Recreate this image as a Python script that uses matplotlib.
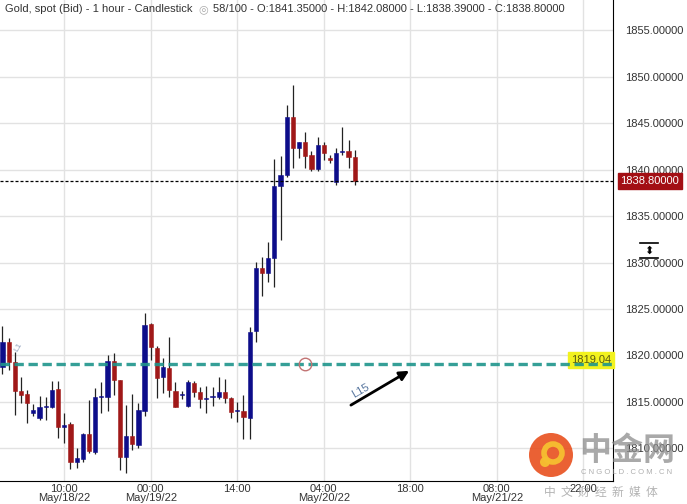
import matplotlib
matplotlib.use("Agg")
import matplotlib.pyplot as plt
import matplotlib.patches as patches
import numpy as np

plt.rcParams['font.family'] = ['Liberation Sans', 'DejaVu Sans']

# hourly candles, hour offset from 00:00 May/19/22
start_hour = -24
opens = [1818.8, 1821.4, 1819.3, 1816.2, 1815.85, 1813.85, 1813.25, 1814.45, 1814.5, 1816.35,
         1812.3, 1812.6, 1808.55, 1808.9, 1811.55, 1809.65, 1815.5, 1815.55, 1819.35, 1817.35,
         1809.05, 1811.35, 1810.35, 1814.05, 1823.4, 1820.8, 1817.65, 1818.6, 1816.2, 1815.7,
         1814.55, 1817.05, 1816.1, 1815.3, 1815.5, 1815.55, 1816.05, 1815.45, 1814.0, 1814.05,
         1813.25, 1822.6, 1829.4, 1828.85, 1830.45, 1838.25, 1839.45, 1845.7, 1842.35, 1843.0,
         1841.6, 1840.05, 1842.65, 1841.2, 1838.7, 1841.9, 1842.05, 1841.35]
highs = [1823.2, 1821.85, 1820.4, 1817.65, 1816.3, 1814.8, 1815.6, 1815.55, 1817.3, 1817.3,
         1813.75, 1812.85, 1810.0, 1811.6, 1815.2, 1816.45, 1817.15, 1820.05, 1820.3, 1817.4,
         1814.65, 1815.85, 1814.85, 1824.6, 1823.45, 1821.0, 1819.7, 1821.95, 1817.15, 1816.2,
         1817.35, 1817.3, 1816.55, 1816.7, 1816.55, 1817.65, 1817.45, 1815.5, 1815.0, 1815.75,
         1823.1, 1830.1, 1830.65, 1832.25, 1841.2, 1841.5, 1846.95, 1849.1, 1843.0, 1844.1,
         1842.05, 1843.55, 1843.0, 1841.6, 1842.3, 1844.65, 1843.2, 1842.08]
lows = [1818.0, 1818.4, 1813.6, 1814.9, 1812.75, 1813.5, 1813.05, 1813.1, 1814.3, 1811.1,
        1810.55, 1807.75, 1807.85, 1808.55, 1809.45, 1809.4, 1813.75, 1814.05, 1815.75, 1807.65,
        1807.3, 1809.8, 1810.05, 1813.5, 1819.5, 1815.4, 1816.0, 1815.55, 1814.4, 1815.3,
        1814.4, 1815.5, 1814.3, 1813.85, 1814.55, 1815.3, 1814.9, 1813.25, 1812.85, 1810.95,
        1810.95, 1821.45, 1826.35, 1827.95, 1827.4, 1832.45, 1839.25, 1840.15, 1841.25, 1840.15,
        1839.9, 1839.9, 1841.0, 1840.75, 1838.35, 1841.6, 1840.15, 1838.39]
closes = [1821.4, 1819.3, 1816.2, 1815.7, 1814.9, 1814.1, 1814.4, 1814.6, 1816.3, 1812.25,
          1812.55, 1808.55, 1809.0, 1811.55, 1809.75, 1815.55, 1815.6, 1819.4, 1817.35, 1809.05,
          1811.35, 1810.45, 1814.15, 1823.3, 1820.95, 1817.55, 1818.8, 1816.3, 1814.5, 1815.8,
          1817.15, 1816.1, 1815.3, 1815.4, 1815.6, 1816.05, 1815.4, 1813.95, 1814.1, 1813.35,
          1822.55, 1829.4, 1828.85, 1830.45, 1838.25, 1839.45, 1845.7, 1842.35, 1843.0, 1841.5,
          1840.05, 1842.65, 1841.75, 1841.1, 1841.85, 1842.05, 1841.35, 1838.8]

tick_hours = [-14, 0, 14, 28, 42, 56, 70]
tick_labels = ["10:00\nMay/18/22", "00:00\nMay/19/22", "14:00", "04:00\nMay/20/22",
               "18:00", "08:00\nMay/21/22", "22:00"]
price_ticks = [1810, 1815, 1820, 1825, 1830, 1835, 1840, 1845, 1850, 1855]
support_level = 1819.04
last_price = 1838.80

up_col = '#0d0d8a'
down_col = '#a01818'

fig = plt.figure(figsize=(6.87, 5.04), dpi=100)
ax = fig.add_axes([0, 23 / 504, 613 / 687, 481 / 504])

hours = np.arange(len(opens)) + start_hour
for h, o, hi, lo, c in zip(hours, opens, highs, lows, closes):
    col = up_col if c >= o else down_col
    ax.vlines(h, lo, hi, color='#222222', lw=0.9, zorder=3)
    bottom = min(o, c)
    height = max(abs(c - o), 0.12)
    ax.add_patch(patches.Rectangle((h - 0.34, bottom), 0.68, height,
                                   facecolor=col, edgecolor=col, lw=0.4, zorder=4))

# last price dotted line + label
ax.axhline(last_price, color='black', lw=0.9, ls=(0, (2.4, 1.6)), zorder=5)
ax.text(1.012, last_price, "1838.80000", transform=ax.get_yaxis_transform(),
        ha='left', va='center', color='white', fontsize=8, zorder=10, clip_on=False,
        bbox=dict(boxstyle='square,pad=0.25', facecolor='#a30f14', edgecolor='#a30f14'))

# support line
ax.axhline(support_level, color='#1f958c', lw=2.4, ls=(0, (2.8, 1.4)), alpha=0.9, zorder=6)
ax.text(0.997, support_level + 0.45, "1819.04", transform=ax.get_yaxis_transform(),
        ha='right', va='center', color='#5a5a10', fontsize=8, zorder=5,
        bbox=dict(boxstyle='square,pad=0.25', facecolor='#f2f21e', edgecolor='#f2f21e'))
ax.plot([25], [support_level], marker='o', ms=9, mfc='none', mec='#c27474', mew=1, zorder=7)
ax.text(-22.3, 1820.5, "L1", color='#8fa0bb', fontsize=6, rotation=60, zorder=2)

# arrow + label
ax.annotate("", xy=(42.2, 1818.5), xytext=(32, 1814.5),
            arrowprops=dict(arrowstyle='-|>', color='black', lw=2, mutation_scale=14), zorder=8)
ax.text(32.3, 1815.4, "L15", color='#5a78a0', fontsize=8, rotation=30, zorder=8)

# title line
t1 = ax.text(5 / 613, 1 - 9 / 481, "Gold, spot (Bid) - 1 hour - Candlestick", transform=ax.transAxes,
             ha='left', va='center', fontsize=8, color='#333333', zorder=9)
t_eye = ax.annotate("◎", xy=(1, 0.5), xycoords=t1, xytext=(4, 0), textcoords='offset points',
                    ha='left', va='center', fontsize=8, color='#aaaaaa', family='DejaVu Sans')
ax.annotate("58/100 - O:1841.35000 - H:1842.08000 - L:1838.39000 - C:1838.80000",
            xy=(1, 0.5), xycoords=t_eye, xytext=(4, 0), textcoords='offset points',
            ha='left', va='center', fontsize=8, color='#333333')

ax.set_xlim(-24.4, 74.8)
ax.set_ylim(1806.48, 1858.28)
ax.set_xticks(tick_hours)
ax.set_xticklabels(tick_labels, fontsize=8, color='#333333', linespacing=0.95)
ax.set_yticks(price_ticks)
ax.set_yticklabels([f"{p:.5f}" for p in price_ticks], fontsize=8, color='#333333')
ax.yaxis.tick_right()
ax.tick_params(axis='y', length=0, pad=9)
ax.tick_params(axis='x', length=0, pad=2)
ax.grid(True, color='#e2e2e2', lw=1)
ax.set_axisbelow(True)
for side in ['left', 'top']:
    ax.spines[side].set_visible(False)
ax.spines['right'].set_color('black')
ax.spines['bottom'].set_color('black')

# scale icon on the price axis
fig.add_artist(plt.Line2D([640 / 687, 658 / 687], [1 - 243 / 504] * 2, color='black', lw=1.2))
fig.add_artist(plt.Line2D([640 / 687, 658 / 687], [1 - 258 / 504] * 2, color='black', lw=1.2))
fig.text(649 / 687, 1 - 250.5 / 504, "⬍", ha='center', va='center', fontsize=8,
         family='DejaVu Sans', color='black')

# watermark (logo drawn in inches so it stays round)
inch = fig.dpi_scale_trans
fig.add_artist(patches.Circle((5.51, 0.49), 0.22, transform=inch,
                              facecolor='#e8501e', edgecolor='none', alpha=0.9))
fig.add_artist(patches.Circle((5.53, 0.51), 0.09, transform=inch,
                              facecolor='none', edgecolor='#f6c030', lw=4, alpha=0.95))
fig.add_artist(patches.Circle((5.45, 0.42), 0.05, transform=inch,
                              facecolor='#f6c030', edgecolor='none', alpha=0.95))
fig.text(627 / 687, 1 - 451 / 504, "中金网", ha='center', va='center', fontsize=23,
         fontweight='bold', color='#8c8c8c', alpha=0.75, family=['Noto Sans CJK SC'])
fig.text(627 / 687, 1 - 472 / 504, "C N G O L D . C O M . C N", ha='center', va='center',
         fontsize=5.5, color='#9a9a9a', alpha=0.8)
fig.text(601 / 687, 1 - 492 / 504, "中  文  财  经  新  媒  体", ha='center', va='center',
         fontsize=8.5, color='#9a9a9a', alpha=0.75, family=['Noto Sans CJK SC'])

fig.savefig("out.png", dpi=100)
